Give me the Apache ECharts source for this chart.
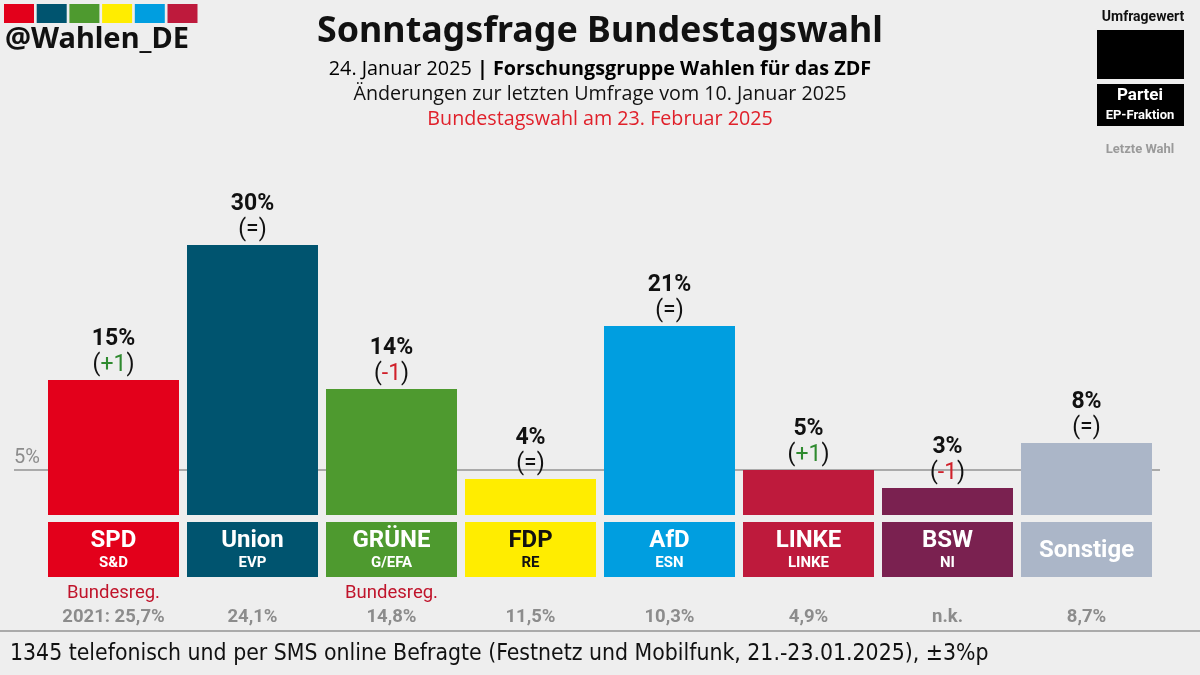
<!DOCTYPE html>
<html>
<head>
<meta charset="utf-8">
<script src="https://cdn.jsdelivr.net/npm/echarts@6/dist/echarts.min.js"></script>
<style>html,body{margin:0;padding:0;background:#eeeeee}#c{width:1200px;height:675px}</style>
</head>
<body>
<div id="c"></div>
<script>
const parties = ['SPD', 'Union', 'GRÜNE', 'FDP', 'AfD', 'LINKE', 'BSW', 'Sonstige'];
const groups = ['S&D', 'EVP', 'G/EFA', 'RE', 'ESN', 'LINKE', 'NI', ''];
const values = [15, 30, 14, 4, 21, 5, 3, 8];
const changes = ['+1', '=', '-1', '=', '=', '+1', '-1', '='];
const lastElection = ['2021: 25,7%', '24,1%', '14,8%', '11,5%', '10,3%', '4,9%', 'n.k.', '8,7%'];
const government = [true, false, true, false, false, false, false, false];
const colors = ['#e3001b', '#00546f', '#4e9a2f', '#ffed00', '#009ee0', '#be1a3c', '#7a2150', '#abb6c8'];
const textColors = ['#fff', '#fff', '#fff', '#111', '#fff', '#fff', '#fff', '#fff'];
const threshold = 5;
const brandColors = ['#e3001b', '#00546f', '#4e9a2f', '#ffed00', '#009ee0', '#be1a3c'];

const chart = echarts.init(document.getElementById('c'));
const gap = '5.76%';

const brandRects = brandColors.map((c, i) => ({
  type: 'rect', shape: { x: 4 + i * 32.7, y: 4, width: 30, height: 19 }, style: { fill: c }
}));

const option = {
  backgroundColor: '#eeeeee',
  animation: false,
  grid: [
    { left: 44, right: 44, top: 200, bottom: 160 },
    { left: 44, right: 44, top: 522, height: 55 },
    { left: 14, right: 40, top: 200, bottom: 160 }
  ],
  xAxis: [
    { type: 'category', data: parties, gridIndex: 0, show: false },
    {
      type: 'category', data: parties, gridIndex: 1,
      axisLine: { show: false }, axisTick: { show: false },
      axisLabel: {
        margin: 4, interval: 0,
        formatter: (v, i) => '{gov|' + (government[i] ? 'Bundesreg.' : ' ') + '}\n{last|' + lastElection[i] + '}',
        rich: {
          gov: { fontFamily: 'Roboto', fontSize: 18.5, color: '#c0142b', lineHeight: 24 },
          last: { fontFamily: 'Roboto', fontSize: 18.5, fontWeight: 'bold', color: '#8c8c8c', lineHeight: 24 }
        }
      }
    },
    { type: 'value', gridIndex: 2, min: 0, max: 1, show: false }
  ],
  yAxis: [
    { type: 'value', gridIndex: 0, min: 0, max: 35, show: false },
    { type: 'value', gridIndex: 1, min: 0, max: 1, show: false },
    { type: 'value', gridIndex: 2, min: 0, max: 35, show: false }
  ],
  series: [
    {
      type: 'line', xAxisIndex: 2, yAxisIndex: 2, data: [], z: 1, silent: true,
      markLine: {
        z: 1,
        symbol: 'none', silent: true,
        lineStyle: { color: '#aaaaaa', width: 2, type: 'solid' },
        label: {
          show: true, position: 'insideStartTop', formatter: threshold + '%',
          fontFamily: 'Roboto', fontSize: 20, color: '#8c8c8c', distance: [0, 2]
        },
        data: [{ yAxis: threshold }]
      }
    },
    {
      type: 'bar', xAxisIndex: 0, yAxisIndex: 0, z: 3,
      barCategoryGap: gap,
      data: values.map((v, i) => ({ value: v, itemStyle: { color: colors[i] } })),
      label: {
        show: true, position: 'top', distance: 2,
        formatter: (p) => {
          const c = changes[p.dataIndex];
          const st = c.startsWith('+') ? 'g' : (c.startsWith('-') ? 'r' : 'p');
          return '{v|' + values[p.dataIndex] + '%}\n{p|(}{' + st + '|' + c + '}{p|)}';
        },
        rich: {
          v: { fontFamily: 'Roboto', fontSize: 23, fontWeight: 'bold', color: '#111', lineHeight: 26 },
          p: { fontFamily: 'Roboto', fontSize: 23, color: '#111', lineHeight: 26 },
          g: { fontFamily: 'Roboto', fontSize: 23, color: '#2f8a2f', lineHeight: 26 },
          r: { fontFamily: 'Roboto', fontSize: 23, color: '#d0202a', lineHeight: 26 }
        }
      }
    },
    {
      type: 'bar', xAxisIndex: 1, yAxisIndex: 1, z: 3,
      barCategoryGap: gap,
      data: parties.map((p, i) => ({ value: 1, itemStyle: { color: colors[i] } })),
      label: {
        show: true, position: 'inside',
        formatter: (p) => {
          const i = p.dataIndex;
          const tc = textColors[i] === '#fff' ? 'w' : 'k';
          if (!groups[i]) return '{o' + tc + '|' + parties[i] + '}';
          return '{n' + tc + '|' + parties[i] + '}\n{s' + tc + '|' + groups[i] + '}';
        },
        rich: {
          nw: { fontFamily: 'Roboto', fontSize: 24, fontWeight: 'bold', color: '#fff', lineHeight: 28, align: 'center' },
          sw: { fontFamily: 'Roboto', fontSize: 15, fontWeight: 'bold', color: '#fff', lineHeight: 18, align: 'center' },
          nk: { fontFamily: 'Roboto', fontSize: 24, fontWeight: 'bold', color: '#111', lineHeight: 28, align: 'center' },
          sk: { fontFamily: 'Roboto', fontSize: 15, fontWeight: 'bold', color: '#111', lineHeight: 18, align: 'center' },
          ow: { fontFamily: 'Roboto', fontSize: 24, fontWeight: 'bold', color: '#fff', lineHeight: 28, align: 'center', padding: [2, 0, 0, 0] }
        }
      }
    }
  ],
  graphic: [
    ...brandRects,
    { type: 'text', style: { x: 5, y: 40, text: '@Wahlen_DE', font: 'bold 29px "Noto Sans"', fill: '#111', textVerticalAlign: 'middle' } },
    { type: 'text', style: { x: 600, y: 32, text: 'Sonntagsfrage Bundestagswahl', font: 'bold 35.8px "Noto Sans"', fill: '#111', textAlign: 'center', textVerticalAlign: 'middle' } },
    { type: 'text', style: { x: 600, y: 69, textAlign: 'center', textVerticalAlign: 'middle',
      text: '{a|24. Januar 2025 }{b|| Forschungsgruppe Wahlen für das ZDF}',
      rich: { a: { fontFamily: 'Open Sans', fontSize: 19.8, color: '#111' }, b: { fontFamily: 'Open Sans', fontSize: 19.8, fontWeight: 'bold', color: '#111' } } } },
    { type: 'text', style: { x: 600, y: 94, text: 'Änderungen zur letzten Umfrage vom 10. Januar 2025', font: '19.7px "Open Sans"', fill: '#111', textAlign: 'center', textVerticalAlign: 'middle' } },
    { type: 'text', style: { x: 600, y: 119, text: 'Bundestagswahl am 23. Februar 2025', font: '19.7px "Open Sans"', fill: '#e0202a', textAlign: 'center', textVerticalAlign: 'middle' } },
    { type: 'text', style: { x: 1143, y: 17, text: 'Umfragewert', font: 'bold 14px Roboto', fill: '#111', textAlign: 'center', textVerticalAlign: 'middle' } },
    { type: 'rect', shape: { x: 1097, y: 30, width: 87, height: 49 }, style: { fill: '#000' } },
    { type: 'rect', shape: { x: 1097, y: 84, width: 87, height: 42 }, style: { fill: '#000' } },
    { type: 'text', style: { x: 1140, y: 96, text: 'Partei', font: 'bold 17px Roboto', fill: '#fff', textAlign: 'center', textVerticalAlign: 'middle' } },
    { type: 'text', style: { x: 1140, y: 116, text: 'EP-Fraktion', font: 'bold 13px Roboto', fill: '#fff', textAlign: 'center', textVerticalAlign: 'middle' } },
    { type: 'text', style: { x: 1140, y: 150, text: 'Letzte Wahl', font: 'bold 13px Roboto', fill: '#9a9a9a', textAlign: 'center', textVerticalAlign: 'middle' } },
    { type: 'line', shape: { x1: 0, y1: 631, x2: 1200, y2: 631 }, style: { stroke: '#aaaaaa', lineWidth: 2 } },
    { type: 'text', style: { x: 10, y: 654, text: '1345 telefonisch und per SMS online Befragte (Festnetz und Mobilfunk, 21.-23.01.2025), ±3%p', font: '22.8px "Liberation Sans Narrow", "DejaVu Sans Condensed", sans-serif', fill: '#111', textVerticalAlign: 'middle' } }
  ]
};
chart.setOption(option);
</script>
</body>
</html>
